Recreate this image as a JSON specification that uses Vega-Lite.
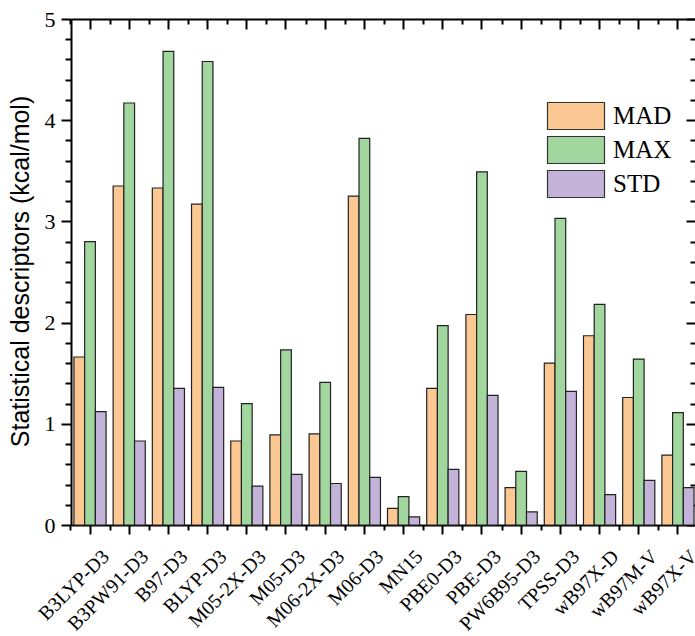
{
  "$schema": "https://vega.github.io/schema/vega-lite/v6.json",
  "autosize": {"type": "none"},
  "padding": {"left": 71, "top": 19, "right": 0, "bottom": 111},
  "width": 624,
  "height": 506,
  "background": "white",
  "config": {"view": {"stroke": null}, "axis": {"grid": false}},
  "data": {"values": [
    {"m": "B3LYP-D3", "s": "MAD", "v": 1.66}, {"m": "B3LYP-D3", "s": "MAX", "v": 2.80}, {"m": "B3LYP-D3", "s": "STD", "v": 1.12},
    {"m": "B3PW91-D3", "s": "MAD", "v": 3.35}, {"m": "B3PW91-D3", "s": "MAX", "v": 4.17}, {"m": "B3PW91-D3", "s": "STD", "v": 0.83},
    {"m": "B97-D3", "s": "MAD", "v": 3.33}, {"m": "B97-D3", "s": "MAX", "v": 4.68}, {"m": "B97-D3", "s": "STD", "v": 1.35},
    {"m": "BLYP-D3", "s": "MAD", "v": 3.17}, {"m": "BLYP-D3", "s": "MAX", "v": 4.58}, {"m": "BLYP-D3", "s": "STD", "v": 1.36},
    {"m": "M05-2X-D3", "s": "MAD", "v": 0.83}, {"m": "M05-2X-D3", "s": "MAX", "v": 1.20}, {"m": "M05-2X-D3", "s": "STD", "v": 0.385},
    {"m": "M05-D3", "s": "MAD", "v": 0.89}, {"m": "M05-D3", "s": "MAX", "v": 1.73}, {"m": "M05-D3", "s": "STD", "v": 0.50},
    {"m": "M06-2X-D3", "s": "MAD", "v": 0.90}, {"m": "M06-2X-D3", "s": "MAX", "v": 1.41}, {"m": "M06-2X-D3", "s": "STD", "v": 0.41},
    {"m": "M06-D3", "s": "MAD", "v": 3.25}, {"m": "M06-D3", "s": "MAX", "v": 3.82}, {"m": "M06-D3", "s": "STD", "v": 0.47},
    {"m": "MN15", "s": "MAD", "v": 0.165}, {"m": "MN15", "s": "MAX", "v": 0.28}, {"m": "MN15", "s": "STD", "v": 0.08},
    {"m": "PBE0-D3", "s": "MAD", "v": 1.35}, {"m": "PBE0-D3", "s": "MAX", "v": 1.97}, {"m": "PBE0-D3", "s": "STD", "v": 0.55},
    {"m": "PBE-D3", "s": "MAD", "v": 2.08}, {"m": "PBE-D3", "s": "MAX", "v": 3.49}, {"m": "PBE-D3", "s": "STD", "v": 1.28},
    {"m": "PW6B95-D3", "s": "MAD", "v": 0.37}, {"m": "PW6B95-D3", "s": "MAX", "v": 0.53}, {"m": "PW6B95-D3", "s": "STD", "v": 0.13},
    {"m": "TPSS-D3", "s": "MAD", "v": 1.60}, {"m": "TPSS-D3", "s": "MAX", "v": 3.03}, {"m": "TPSS-D3", "s": "STD", "v": 1.32},
    {"m": "wB97X-D", "s": "MAD", "v": 1.87}, {"m": "wB97X-D", "s": "MAX", "v": 2.18}, {"m": "wB97X-D", "s": "STD", "v": 0.30},
    {"m": "wB97M-V", "s": "MAD", "v": 1.26}, {"m": "wB97M-V", "s": "MAX", "v": 1.64}, {"m": "wB97M-V", "s": "STD", "v": 0.44},
    {"m": "wB97X-V", "s": "MAD", "v": 0.69}, {"m": "wB97X-V", "s": "MAX", "v": 1.11}, {"m": "wB97X-V", "s": "STD", "v": 0.37}
  ]},
  "resolve": {"axis": {"x": "independent", "y": "independent"}},
  "layer": [
    {
      "mark": {"type": "bar", "stroke": "#222", "strokeWidth": 1.2},
      "encoding": {
        "x": {"field": "m", "type": "nominal", "sort": null,
          "scale": {"paddingInner": 0.18, "paddingOuter": 0.05, "align": 0.75},
          "axis": {"orient": "bottom", "title": null, "labelAngle": -45, "labelFont": "Liberation Serif", "labelFontSize": 20, "labelColor": "#000", "labelAlign": "right", "labelBaseline": "top", "labelPadding": 12, "labelOffset": 9, "tickSize": 9, "tickColor": "#000", "tickWidth": 2, "domainColor": "#000", "domainWidth": 2}},
        "y": {"field": "v", "type": "quantitative", "scale": {"domain": [0, 5], "nice": false},
          "axis": {"orient": "left", "values": [0, 1, 2, 3, 4, 5], "tickSize": 10, "tickColor": "#000", "tickWidth": 2, "domainColor": "#000", "domainWidth": 2, "labelFont": "Liberation Serif", "labelFontSize": 22, "labelColor": "#000", "labelPadding": 6,
            "title": "Statistical descriptors (kcal/mol)", "titleFont": "Liberation Sans", "titleFontSize": 25, "titleFontWeight": "normal", "titleColor": "#000", "titleX": -38, "titleY": 252, "titleAngle": -90, "titleBaseline": "bottom", "titleAlign": "center"}},
        "xOffset": {"field": "s", "type": "nominal", "scale": {"paddingInner": 0, "paddingOuter": 0}},
        "color": {"field": "s", "type": "nominal",
          "scale": {"domain": ["MAD", "MAX", "STD"], "range": ["#FBC894", "#A1D79F", "#C3B3D8"]},
          "legend": {"orient": "none", "legendX": 490, "legendY": 82, "title": null, "padding": 0,
            "symbolType": "M-2,-0.947H2V0.947H-2Z", "symbolSize": 812, "symbolStrokeColor": "#333", "symbolStrokeWidth": 1.2, "symbolOpacity": 1,
            "labelFont": "Liberation Serif", "labelFontSize": 25, "labelColor": "#000", "labelOffset": 22, "rowPadding": 2}}
      }
    },
    {
      "mark": {"type": "bar", "opacity": 0},
      "encoding": {
        "x": {"field": "m", "type": "nominal", "sort": null,
          "axis": {"orient": "bottom", "title": null, "labels": false, "domain": false, "tickColor": "#000", "tickWidth": 2, "tickSize": 5, "tickOffset": -19.6}},
        "y": {"field": "v", "type": "quantitative",
          "axis": {"orient": "left", "title": null, "labels": false, "domain": false, "tickColor": "#000", "tickWidth": 2, "tickSize": 6,
            "values": [0.2, 0.4, 0.6, 0.8, 1.2, 1.4, 1.6, 1.8, 2.2, 2.4, 2.6, 2.8, 3.2, 3.4, 3.6, 3.8, 4.2, 4.4, 4.6, 4.8]}}
      }
    },
    {
      "mark": {"type": "bar", "opacity": 0},
      "encoding": {
        "x": {"field": "m", "type": "nominal", "sort": null,
          "axis": {"orient": "top", "title": null, "labels": false, "domain": true, "domainColor": "#000", "domainWidth": 2, "tickColor": "#000", "tickWidth": 2, "tickSize": -10}},
        "y": {"field": "v", "type": "quantitative",
          "axis": {"orient": "right", "title": null, "labels": false, "domain": false, "tickColor": "#000", "tickWidth": 2, "tickSize": -9, "values": [0, 1, 2, 3, 4, 5]}}
      }
    },
    {
      "mark": {"type": "bar", "opacity": 0},
      "encoding": {
        "x": {"field": "m", "type": "nominal", "sort": null,
          "axis": {"orient": "top", "title": null, "labels": false, "domain": false, "tickColor": "#000", "tickWidth": 2, "tickSize": -5, "tickOffset": -19.6}},
        "y": {"field": "v", "type": "quantitative",
          "axis": {"orient": "right", "title": null, "labels": false, "domain": false, "tickColor": "#000", "tickWidth": 2, "tickSize": -5,
            "values": [0.2, 0.4, 0.6, 0.8, 1.2, 1.4, 1.6, 1.8, 2.2, 2.4, 2.6, 2.8, 3.2, 3.4, 3.6, 3.8, 4.2, 4.4, 4.6, 4.8]}}
      }
    }
  ]
}
